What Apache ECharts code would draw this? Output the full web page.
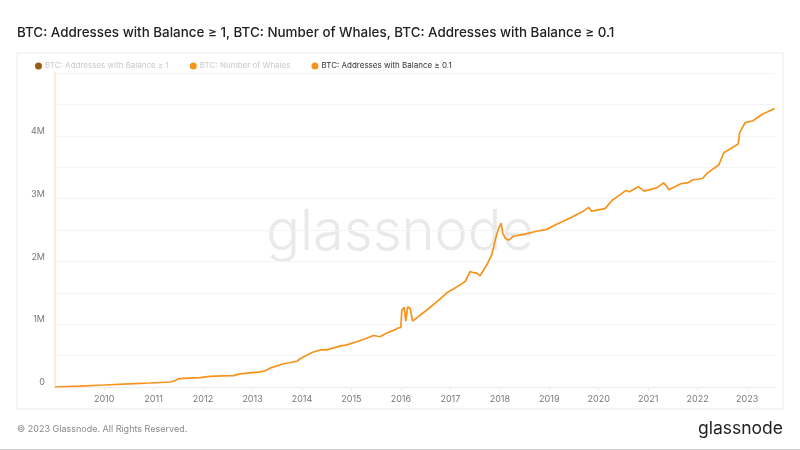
<!DOCTYPE html>
<html>
<head>
<meta charset="utf-8">
<script src="https://cdn.jsdelivr.net/npm/echarts@6/dist/echarts.min.js"></script>
<style>
html,body{margin:0;padding:0;background:#fff;}
#chart{width:800px;height:450px;}
</style>
</head>
<body>
<div id="chart"></div>
<script>
const titleText = 'BTC: Addresses with Balance ≥ 1, BTC: Number of Whales, BTC: Addresses with Balance ≥ 0.1';
const seriesNames = ['BTC: Addresses with Balance ≥ 1', 'BTC: Number of Whales', 'BTC: Addresses with Balance ≥ 0.1'];
const seriesColors = ['#9c5a14', '#f7931a', '#f7931a'];

const dates = [
 '2009-01-03','2009-07-01','2010-01-01','2010-07-01','2010-12-05','2011-05-05','2011-06-03','2011-07-01','2011-08-08','2011-12-10',
 '2012-02-20','2012-05-25','2012-08-14','2012-10-01','2013-02-25','2013-04-01','2013-05-10','2013-08-18','2013-11-25','2013-12-18',
 '2014-03-15','2014-05-15','2014-07-01','2014-10-08','2014-11-28','2015-03-08','2015-06-14','2015-07-31','2015-09-20','2015-11-17',
 '2015-12-13','2016-01-01','2016-01-08','2016-01-26','2016-02-02','2016-02-06','2016-02-21','2016-03-10','2016-03-21','2016-03-28',
 '2016-07-13','2016-09-24','2016-12-06','2017-01-23','2017-03-15','2017-04-20','2017-05-27','2017-06-21','2017-07-17','2017-08-08',
 '2017-09-28','2017-11-03','2017-11-29','2017-12-20','2018-01-11','2018-01-22','2018-02-10','2018-03-07','2018-04-12','2018-06-25',
 '2018-10-01','2018-12-13','2019-02-24','2019-04-16','2019-06-03','2019-08-15','2019-09-09','2019-10-19','2019-11-10','2020-02-17',
 '2020-04-08','2020-06-06','2020-07-20','2020-08-15','2020-10-19','2020-12-02','2021-03-04','2021-04-24','2021-05-16','2021-06-03',
 '2021-09-02','2021-10-19','2021-11-28','2022-02-06','2022-03-15','2022-06-07','2022-07-13','2022-10-27','2022-11-07','2022-12-17',
 '2023-02-14','2023-04-20','2023-07-08','2023-07-23'
];
const balance01 = [
 0,15000,32000,50000,64000,80000,95000,128000,137000,148000,
 170000,178000,182000,210000,240000,255000,300000,370000,410000,450000,
 550000,590000,592000,650000,670000,740000,820000,800000,860000,910000,
 940000,950000,1220000,1270000,1280000,1050000,1280000,1250000,1230000,1050000,
 1230000,1360000,1500000,1560000,1630000,1680000,1840000,1820000,1810000,1770000,
 1950000,2110000,2350000,2510000,2610000,2450000,2370000,2340000,2400000,2430000,
 2480000,2510000,2590000,2640000,2690000,2770000,2800000,2860000,2800000,2840000,
 2970000,3060000,3130000,3110000,3190000,3120000,3170000,3250000,3200000,3140000,
 3240000,3250000,3300000,3320000,3410000,3540000,3730000,3870000,4050000,4210000,
 4240000,4340000,4420000,4430000
];
const yTickLabels = {0:'0',1000000:'1M',2000000:'2M',3000000:'3M',4000000:'4M'};
const footerText = '© 2023 Glassnode. All Rights Reserved.';
const brandText = 'glassnode';

const chart = echarts.init(document.getElementById('chart'), null, {renderer:'canvas'});
const mainData = dates.map((d,i)=>[d, balance01[i]]);

const option = {
  backgroundColor:'#fff',
  animation:false,
  title:{
    text:titleText, left:12, top:21,
    textStyle:{fontFamily:'Inter', fontSize:13.4, fontWeight:500, color:'#222'}
  },
  legend:{
    left:30, top:57, itemWidth:7, itemHeight:7, itemGap:21, icon:'circle',
    textStyle:{fontFamily:'Inter', fontSize:8, color:'#333', padding:[0,0,0,-2]},
    selectedMode:false,
    data:[
      {name:seriesNames[0], itemStyle:{color:seriesColors[0]}, textStyle:{color:'#c9c9c9'}},
      {name:seriesNames[1], itemStyle:{color:seriesColors[1]}, textStyle:{color:'#c9c9c9'}},
      {name:seriesNames[2], itemStyle:{color:seriesColors[2]}, textStyle:{color:'#333'}}
    ]
  },
  grid:{left:55, right:25, top:73, bottom:63, containLabel:false},
  xAxis:{
    type:'time', min:'2009-01-03', max:'2023-07-26',
    minInterval:365*24*3600*1000, maxInterval:366*24*3600*1000,
    axisLine:{show:true, lineStyle:{color:'#ececec'}},
    axisTick:{show:true, length:4, lineStyle:{color:'#ececec'}},
    splitLine:{show:false},
    axisLabel:{
      fontFamily:'Inter', fontSize:9, color:'#777', margin:8,
      formatter:function(v){ return String(new Date(v).getFullYear()); }
    }
  },
  yAxis:{
    type:'value', min:0, max:5000000, interval:500000,
    axisLine:{show:true, lineStyle:{color:'#fdebd8', width:2}},
    axisTick:{show:false},
    splitLine:{show:true, lineStyle:{color:'#f3f3f3'}},
    axisLabel:{
      fontFamily:'Inter', fontSize:9, color:'#777', margin:10,
      verticalAlign:'bottom',
      formatter:function(v){ return yTickLabels[v] !== undefined ? yTickLabels[v] : ''; }
    }
  },
  graphic:[
    {type:'rect', shape:{x:17, y:53, width:766, height:356}, style:{fill:'none', stroke:'#ececec', lineWidth:1}, z:-1, silent:true},
    {type:'text', x:400, y:233, style:{text:brandText, font:'300 56px Inter', fill:'#e9e9e9', align:'center', verticalAlign:'middle'}, z:-1, silent:true},
    {type:'text', left:17, top:425, style:{text:footerText, font:'9px Inter', fill:'#888'}},
    {type:'text', right:17, top:420, style:{text:brandText, font:'17.5px Inter', fill:'#222'}},
    {type:'line', shape:{x1:0, y1:449.5, x2:800, y2:449.5}, style:{stroke:'#cfcfcf', lineWidth:1}}
  ],
  series:[
    {name:seriesNames[0], type:'line', data:[], color:seriesColors[0], showSymbol:false},
    {name:seriesNames[1], type:'line', data:[], color:seriesColors[1], showSymbol:false},
    {name:seriesNames[2], type:'line', data:mainData, color:seriesColors[2], showSymbol:false,
     lineStyle:{width:1.7, color:seriesColors[2]}, z:5}
  ]
};
chart.setOption(option);
</script>
</body>
</html>
